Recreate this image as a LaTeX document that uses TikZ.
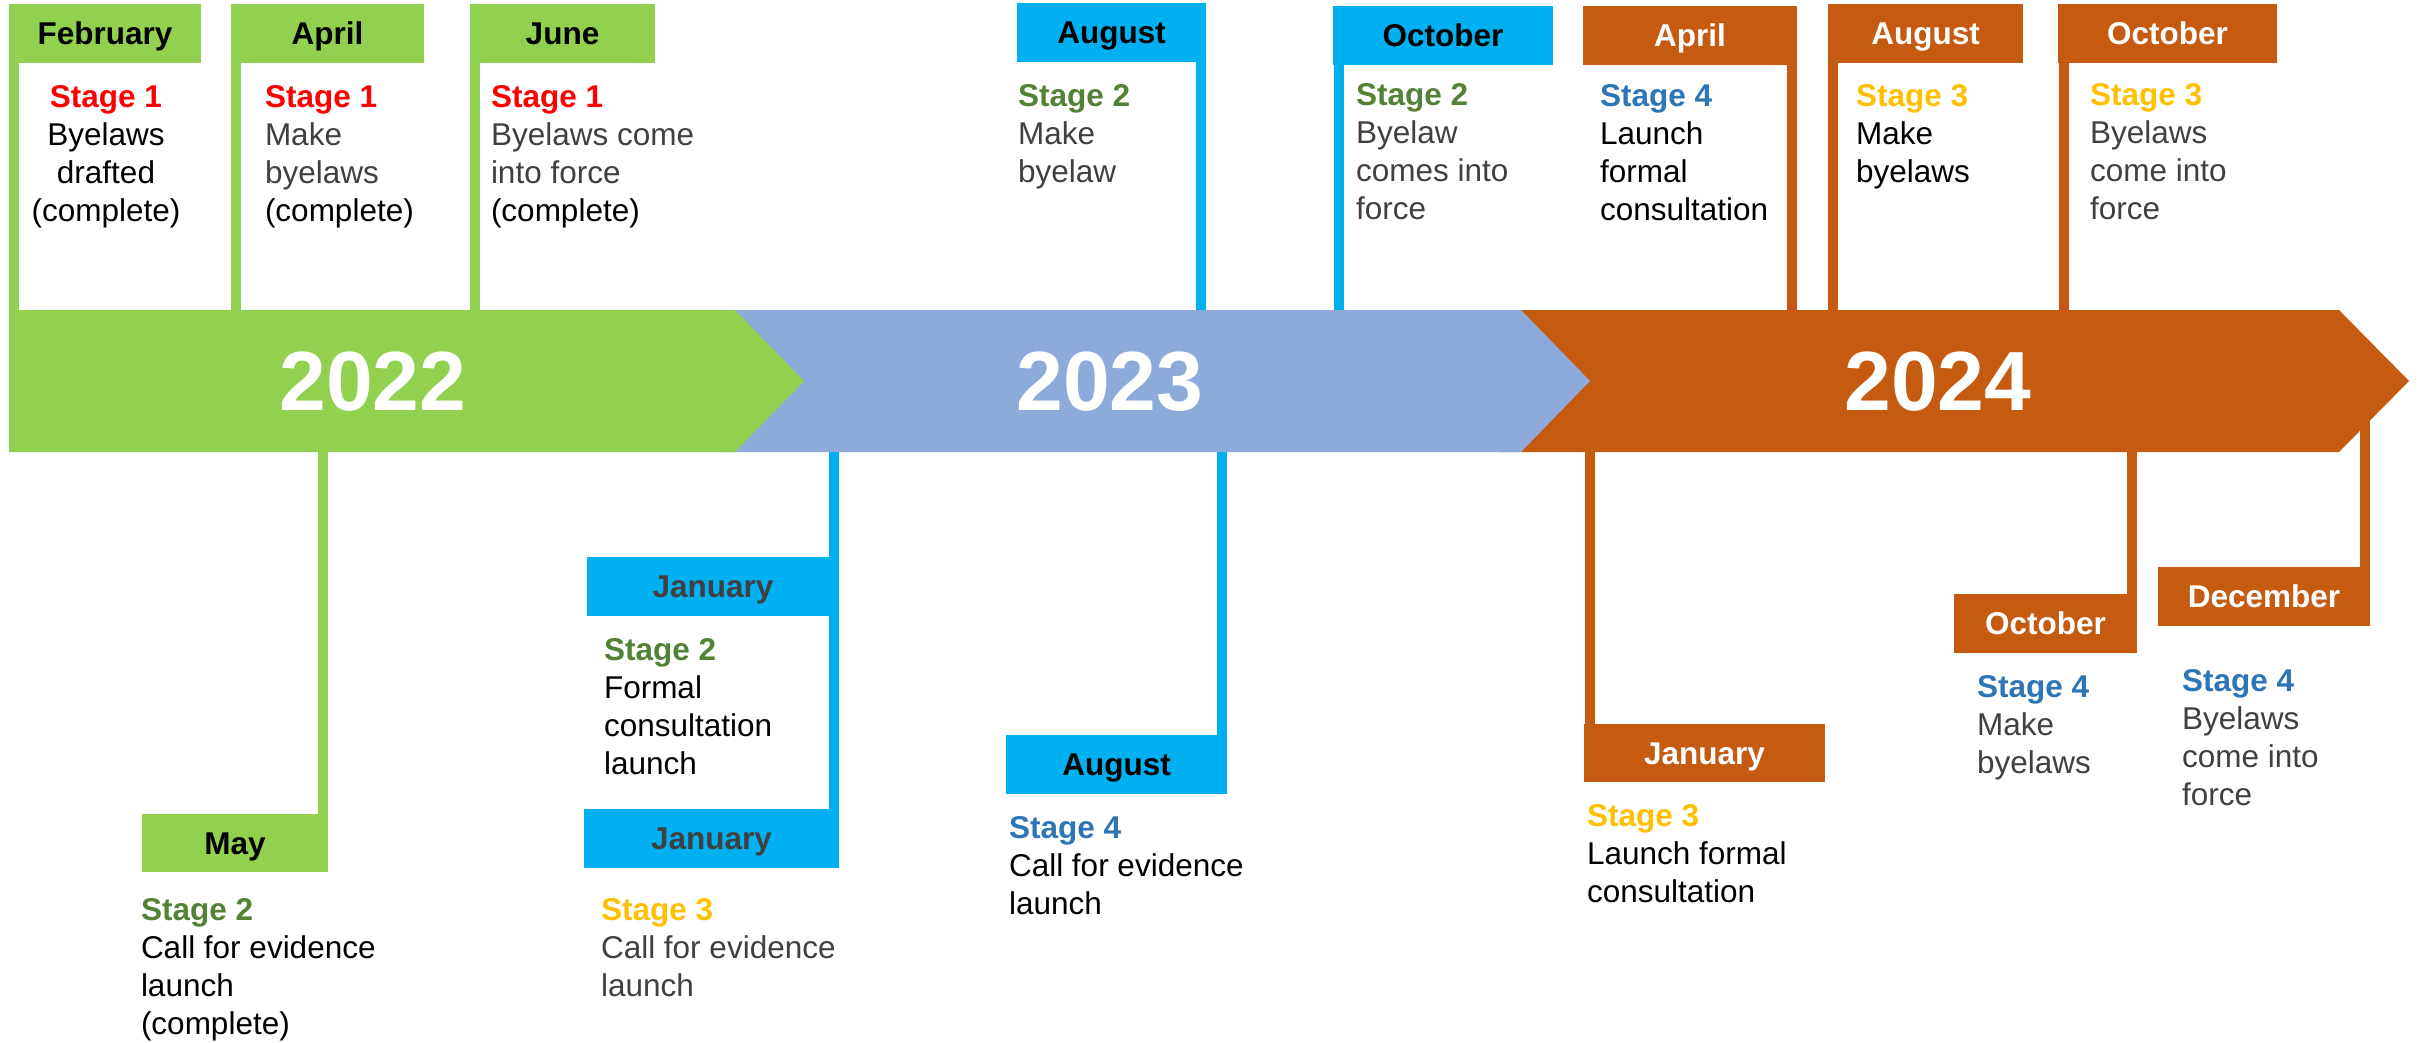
\documentclass[tikz,border=0pt]{standalone}
\usepackage{fontspec}
\setmainfont{Liberation Sans}
\definecolor{cg}{HTML}{92D050}
\definecolor{cb}{HTML}{8EAADB}
\definecolor{cc}{HTML}{00B0F0}
\definecolor{co}{HTML}{C55A11}
\definecolor{sred}{HTML}{FF0000}
\definecolor{sgreen}{HTML}{538135}
\definecolor{syellow}{HTML}{FFC000}
\definecolor{sblue}{HTML}{2E75B6}
\definecolor{tgray}{HTML}{404040}
\newcommand{\Ln}[1]{\hbox{#1}}
\newcommand{\Lc}[1]{\hbox to 0pt{\hss#1\hss}}
\newcommand{\Sg}[2]{\textbf{\color{#1}Stage #2}}
\newcommand{\Gy}[1]{\hbox{\color{tgray}#1}}
\tikzset{
  mbox/.style={draw=none, inner sep=0pt, outer sep=0pt, anchor=north west, minimum height=59pt, text height=22.5pt, text depth=0pt, font=\fontsize{31.5}{38}\selectfont\bfseries},
  desc/.style={inner sep=0pt, outer sep=0pt, anchor=base west, font=\fontsize{31.5}{38}\selectfont},
  descc/.style={desc, anchor=base},
  conn/.style={line width=10pt},
  year/.style={text=white, inner sep=0pt, font=\fontsize{84}{84}\selectfont\bfseries}
}
\begin{document}
\begin{tikzpicture}[x=1pt,y=-1pt]
\fill[white] (0,0) rectangle (2425,1043);
\useasboundingbox (0,0) rectangle (2425,1043);
\coordinate (btop) at (0,310);
\coordinate (bbot) at (0,452);
\coordinate (dtop) at (0,421);

% ---- top boxes ----
\node[mbox, fill=cg, minimum width=192pt] (feb) at (9,4) {February};
\node[descc] (febt) at (106,108) {\vtop{\Lc{\Sg{sred}{1}}\Lc{Byelaws}\Lc{drafted}\Lc{(complete)}}};
\node[mbox, fill=cg, minimum width=193pt] (apra) at (231,4) {April};
\node[desc] (aprat) at (265,108) {\vtop{\Ln{\Sg{sred}{1}}\Gy{Make}\Gy{byelaws}\Ln{(complete)}}};
\node[mbox, fill=cg, minimum width=185pt] (jun) at (470,4) {June};
\node[desc] (junt) at (491,108) {\vtop{\Ln{\Sg{sred}{1}}\Gy{Byelaws come}\Gy{into force}\Ln{(complete)}}};
\node[mbox, fill=cc, minimum width=189pt] (auga) at (1017,3) {August};
\node[desc] (augat) at (1018,107) {\vtop{\Ln{\Sg{sgreen}{2}}\Gy{Make}\Gy{byelaw}}};
\node[mbox, fill=cc, minimum width=220pt] (octa) at (1333,6) {October};
\node[desc] (octat) at (1356,106) {\vtop{\Ln{\Sg{sgreen}{2}}\Gy{Byelaw}\Gy{comes into}\Gy{force}}};
\node[mbox, fill=co, text=white, minimum width=214pt] (aprb) at (1583,6) {April};
\node[desc] (aprbt) at (1600,107) {\vtop{\Ln{\Sg{sblue}{4}}\Ln{Launch}\Ln{formal}\Ln{consultation}}};
\node[mbox, fill=co, text=white, minimum width=195pt] (augb) at (1828,4) {August};
\node[desc] (augbt) at (1856,107) {\vtop{\Ln{\Sg{syellow}{3}}\Ln{Make}\Ln{byelaws}}};
\node[mbox, fill=co, text=white, minimum width=219pt] (octb) at (2058,4) {October};
\node[desc] (octbt) at (2090,106) {\vtop{\Ln{\Sg{syellow}{3}}\Gy{Byelaws}\Gy{come into}\Gy{force}}};

% ---- bottom boxes ----
\node[mbox, fill=cg, minimum width=186pt, minimum height=58pt] (may) at (142,814) {May};
\node[desc] (mayt) at (141,920) {\vtop{\Ln{\Sg{sgreen}{2}}\Ln{Call for evidence}\Ln{launch}\Ln{(complete)}}};
\node[mbox, fill=cc, text=tgray, minimum width=252pt] (jana) at (587,557) {January};
\node[desc] (janat) at (604,660) {\vtop{\Ln{\Sg{sgreen}{2}}\Ln{Formal}\Ln{consultation}\Ln{launch}}};
\node[mbox, fill=cc, text=tgray, minimum width=255pt] (janb) at (584,809) {January};
\node[desc] (janbt) at (601,920) {\vtop{\Ln{\Sg{syellow}{3}}\Gy{Call for evidence}\Gy{launch}}};
\node[mbox, fill=cc, minimum width=221pt] (augc) at (1006,735) {August};
\node[desc] (augct) at (1009,838) {\vtop{\Ln{\Sg{sblue}{4}}\Ln{Call for evidence}\Ln{launch}}};
\node[mbox, fill=co, text=white, minimum width=241pt, minimum height=58pt] (janc) at (1584,724) {January};
\node[desc] (janct) at (1587,826) {\vtop{\Ln{\Sg{syellow}{3}}\Ln{Launch formal}\Ln{consultation}}};
\node[mbox, fill=co, text=white, minimum width=183pt] (octc) at (1954,594) {October};
\node[desc] (octct) at (1977,697) {\vtop{\Ln{\Sg{sblue}{4}}\Gy{Make}\Gy{byelaws}}};
\node[mbox, fill=co, text=white, minimum width=212pt] (dec) at (2158,567) {December};
\node[desc] (dect) at (2182,691) {\vtop{\Ln{\Sg{sblue}{4}}\Gy{Byelaws}\Gy{come into}\Gy{force}}};

% ---- connectors ----
\draw[conn, cg] ([xshift=5pt]feb.south west) -- ([xshift=5pt]feb.south west |- btop);
\draw[conn, cg] ([xshift=5pt]apra.south west) -- ([xshift=5pt]apra.south west |- btop);
\draw[conn, cg] ([xshift=5pt]jun.south west) -- ([xshift=5pt]jun.south west |- btop);
\draw[conn, cc] ([xshift=-5pt]auga.south east) -- ([xshift=-5pt]auga.south east |- btop);
\draw[conn, cc] ([xshift=6pt]octa.south west) -- ([xshift=6pt]octa.south west |- btop);
\draw[conn, co] ([xshift=-5pt]aprb.south east) -- ([xshift=-5pt]aprb.south east |- btop);
\draw[conn, co] ([xshift=5pt]augb.south west) -- ([xshift=5pt]augb.south west |- btop);
\draw[conn, co] ([xshift=6pt]octb.south west) -- ([xshift=6pt]octb.south west |- btop);
\draw[conn, cg] ([xshift=-5pt]may.north east) -- ([xshift=-5pt]may.north east |- bbot);
\draw[conn, cc] ([xshift=-5pt]janb.north east) -- ([xshift=-5pt]janb.north east |- bbot);
\draw[conn, cc] ([xshift=-5pt]augc.north east) -- ([xshift=-5pt]augc.north east |- bbot);
\draw[conn, co] ([xshift=5.5pt]janc.north west) -- ([xshift=5.5pt]janc.north west |- bbot);
\draw[conn, co] ([xshift=-5pt]octc.north east) -- ([xshift=-5pt]octc.north east |- bbot);
\draw[conn, co] ([xshift=-5pt]dec.north east) -- ([xshift=-5pt]dec.north east |- dtop);

% ---- banner ----
\fill[co] (1500,310) -- (2339,310) -- (2409,381) -- (2339,452) -- (1500,452) -- cycle;
\fill[cb] (720,310) -- (1521,310) -- (1590,381) -- (1521,452) -- (720,452) -- cycle;
\fill[cg] (9,310) -- (735,310) -- (804,381) -- (735,452) -- (9,452) -- cycle;
\node[year] (y22) at (373,382) {2022};
\node[year] (y23) at (1110,382) {2023};
\node[year] (y24) at (1938,382) {2024};
\end{tikzpicture}
\end{document}
